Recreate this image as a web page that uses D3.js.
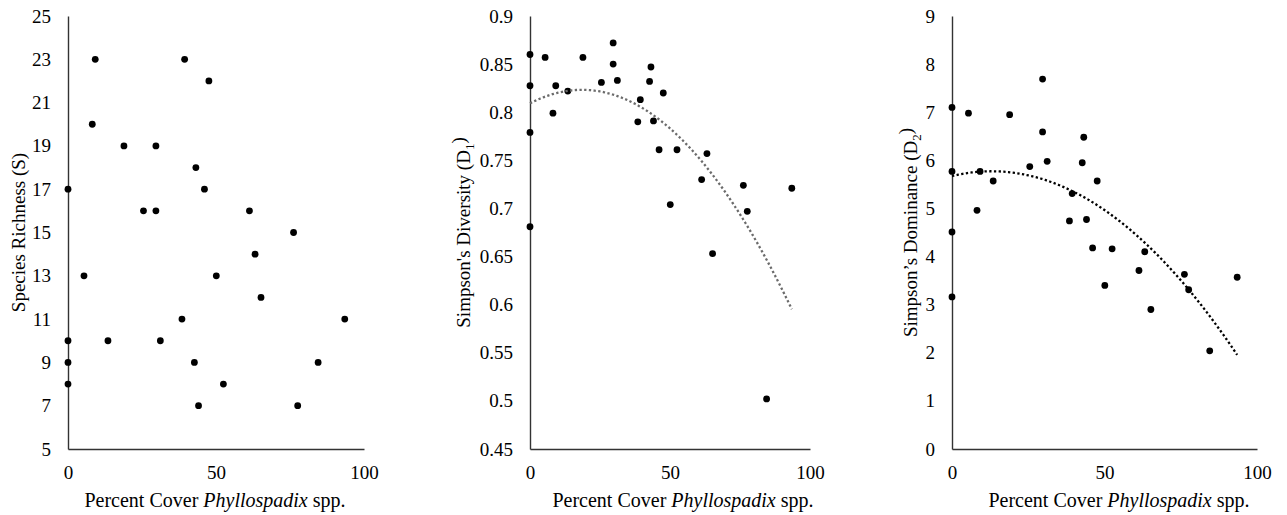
<!DOCTYPE html>
<html>
<head>
<meta charset="utf-8">
<script src="https://d3js.org/d3.v7.min.js"></script>
<style>
  body { margin: 0; background: #fff; }
  text { font-family: "Liberation Serif", "Times New Roman", serif; fill: #000; }
</style>
</head>
<body>
<svg id="chart" width="1287" height="515"></svg>
<script>
// percent cover of Phyllospadix spp. at each plot (shared by all three panels)
var cover = [0, 0, 0, 0, 5.4, 8.2, 9.2, 13.5, 18.9, 25.5, 29.7, 29.7, 31.2, 38.5, 39.4,
             42.7, 43.2, 44.1, 46.1, 47.6, 50.1, 52.5, 61.3, 63.2, 65.2, 76.2, 77.6, 84.5, 93.5];

var richness = [17, 10, 9, 8, 13, 20, 23, 10, 19, 16, 19, 16, 10, 11, 23,
                9, 18, 7, 17, 22, 13, 8, 16, 14, 12, 15, 7, 9, 11];

var diversity = [0.860, 0.8275, 0.779, 0.681, 0.857, 0.799, 0.8275, 0.822, 0.857, 0.831, 0.872, 0.850, 0.833, 0.790, 0.813,
                 0.832, 0.847, 0.791, 0.761, 0.820, 0.704, 0.761, 0.730, 0.757, 0.653, 0.724, 0.697, 0.502, 0.721];

var dominance = [7.10, 5.77, 4.51, 3.16, 6.98, 4.96, 5.77, 5.57, 6.95, 5.87, 7.69, 6.59, 5.98, 4.74, 5.31,
                 5.95, 6.48, 4.77, 4.18, 5.57, 3.40, 4.16, 3.71, 4.10, 2.90, 3.63, 3.31, 2.04, 3.57];

var xTicks = [0, 50, 100];
var richTicks = [5, 7, 9, 11, 13, 15, 17, 19, 21, 23, 25];
var divTicks = [0.45, 0.5, 0.55, 0.6, 0.65, 0.7, 0.75, 0.8, 0.85, 0.9];
var domTicks = [0, 1, 2, 3, 4, 5, 6, 7, 8, 9];

var svg = d3.select("#chart");
var top0 = 16, bottom0 = 449;

// least squares quadratic (Excel's order-2 polynomial trendline)
function quadFit(xs, ys) {
  var s = [0, 0, 0, 0, 0], t = [0, 0, 0];
  xs.forEach(function(x, i) {
    for (var k = 0; k < 5; k++) s[k] += Math.pow(x, k);
    for (var k = 0; k < 3; k++) t[k] += Math.pow(x, k) * ys[i];
  });
  var m = [[s[0], s[1], s[2], t[0]], [s[1], s[2], s[3], t[1]], [s[2], s[3], s[4], t[2]]];
  for (var i = 0; i < 3; i++) {
    for (var j = i + 1; j < 3; j++) {
      var f = m[j][i] / m[i][i];
      for (var k = i; k < 4; k++) m[j][k] -= f * m[i][k];
    }
  }
  var c = [0, 0, 0];
  for (var i = 2; i >= 0; i--) {
    var v = m[i][3];
    for (var k = i + 1; k < 3; k++) v -= m[i][k] * c[k];
    c[i] = v / m[i][i];
  }
  return c;
}

function panel(opt) {
  var x = d3.scaleLinear().domain([0, 100]).range([opt.left, opt.right]);
  var y = d3.scaleLinear().domain([opt.ticks[0], opt.ticks[opt.ticks.length - 1]]).range([bottom0, top0]);
  var g = svg.append("g");

  // axes
  var ya = g.append("g")
    .attr("transform", "translate(" + opt.left + ",0)")
    .call(d3.axisLeft(y).tickValues(opt.ticks).tickSize(0).tickPadding(17).tickFormat(opt.fmt));
  var xa = g.append("g")
    .attr("transform", "translate(0," + bottom0 + ")")
    .call(d3.axisBottom(x).tickValues(xTicks).tickSize(0).tickPadding(17));
  [ya, xa].forEach(function(a) {
    a.attr("font-family", null);
    a.select(".domain").attr("stroke", "#333").attr("stroke-width", 1.4);
    a.selectAll("text").style("font-family", "'Liberation Serif', serif").style("font-size", "19px").attr("fill", "#000");
  });

  // points
  g.selectAll("circle")
    .data(cover)
    .enter().append("circle")
    .attr("cx", function(d) { return x(d); })
    .attr("cy", function(d, i) { return y(opt.values[i]); })
    .attr("r", 3.4)
    .attr("fill", "#000");

  // trendline
  if (opt.trend) {
    var c = quadFit(cover, opt.values);
    var xs = d3.range(0, d3.max(cover) + 0.01, 0.5);
    var line = d3.line()
      .x(function(d) { return x(d); })
      .y(function(d) { return y(c[0] + c[1] * d + c[2] * d * d); });
    g.append("path")
      .datum(xs)
      .attr("d", line)
      .attr("fill", "none")
      .attr("stroke", opt.trend)
      .attr("stroke-width", 2.3)
      .attr("stroke-dasharray", "2.3,2.4");
  }

  // x title
  var xt = g.append("text")
    .attr("x", opt.xTitle)
    .attr("y", 507)
    .attr("text-anchor", "middle")
    .style("font-size", "20px");
  xt.append("tspan").text("Percent Cover ");
  xt.append("tspan").style("font-style", "italic").text("Phyllospadix");
  xt.append("tspan").text(" spp.");

  // y title
  var yt = g.append("text")
    .attr("transform", "translate(" + opt.yTitle + "," + ((top0 + bottom0) / 2) + ") rotate(-90)")
    .attr("text-anchor", "middle")
    .attr("dy", "0.35em")
    .style("font-size", "19px");
  yt.append("tspan").text(opt.label);
  if (opt.sub) {
    yt.append("tspan").attr("dy", "0.3em").style("font-size", "13px").text(opt.sub);
    yt.append("tspan").attr("dy", "-0.45em").text(")");
  }
}

panel({ left: 68, right: 364, ticks: richTicks, values: richness, fmt: d3.format("d"),
        label: "Species Richness (S)", xTitle: 215, yTitle: 18, });
panel({ left: 530, right: 810, ticks: divTicks, values: diversity, fmt: function(d) { return String(+d.toFixed(2)); },
        label: "Simpson's Diversity (D", sub: "1", xTitle: 683, yTitle: 463, trend: "#6b6b6b" });
panel({ left: 952, right: 1257, ticks: domTicks, values: dominance, fmt: d3.format("d"),
        label: "Simpson\u2019s Dominance (D", sub: "2", xTitle: 1119, yTitle: 910, trend: "#000" });
</script>
</body>
</html>
